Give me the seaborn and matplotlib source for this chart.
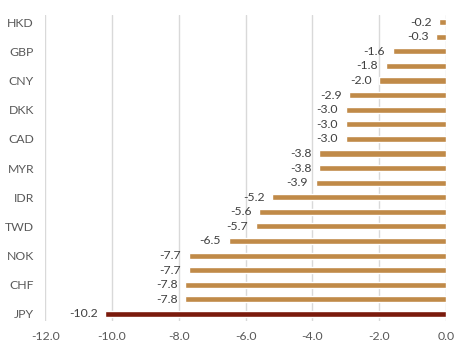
import pandas as pd
import numpy as np
import matplotlib
matplotlib.use('Agg')
import matplotlib.pyplot as plt
import seaborn as sns

currencies = ['HKD', 'SGD', 'GBP', 'EUR', 'CNY', 'INR', 'DKK', 'PHP', 'CAD', 'AUD',
              'MYR', 'THB', 'IDR', 'KRW', 'TWD', 'NZD', 'NOK', 'SEK', 'CHF', 'BRL', 'JPY']
changes = [-0.2, -0.3, -1.6, -1.8, -2.0, -2.9, -3.0, -3.0, -3.0, -3.8, -3.8,
           -3.9, -5.2, -5.6, -5.7, -6.5, -7.7, -7.7, -7.8, -7.8, -10.2]
shown_labels = currencies[::2]

df = pd.DataFrame({'ccy': currencies, 'chg': changes})
colors = ['#C08A48'] * (len(currencies) - 1) + ['#7A1A0C']

sns.set_style('white')
plt.rcParams['font.family'] = ['Lato', 'DejaVu Sans']

fig = plt.figure(figsize=(4.7, 3.53), dpi=100)
ax = fig.add_axes([0.096, 0.09, 0.853, 0.868])

sns.barplot(data=df, x='chg', y='ccy', hue='ccy', palette=colors, legend=False,
            orient='h', width=0.42, saturation=1, ax=ax)

for c in ax.containers:
    ax.bar_label(c, fmt='%.1f', padding=5.5, fontsize=8.8, color='#404040')

ax.set_xlim(-12, 0)
ax.set_xticks(np.arange(-12, 0.1, 2))
ax.set_xticklabels([f'{v:.1f}' for v in np.arange(-12, 0.1, 2)])
ax.set_yticks(range(0, len(currencies), 2))
ax.set_yticklabels(shown_labels)
ax.set_ylim(len(currencies) - 0.5, -0.5)
ax.grid(axis='x', color='#D9D9D9', linewidth=1)
ax.set_axisbelow(True)
for s in ax.spines.values():
    s.set_visible(False)
ax.tick_params(axis='both', length=0, labelsize=8.8, colors='#595959')
ax.tick_params(axis='y', pad=8)
ax.tick_params(axis='x', pad=7)
ax.set_xlabel('')
ax.set_ylabel('')

plt.savefig('out.png')
